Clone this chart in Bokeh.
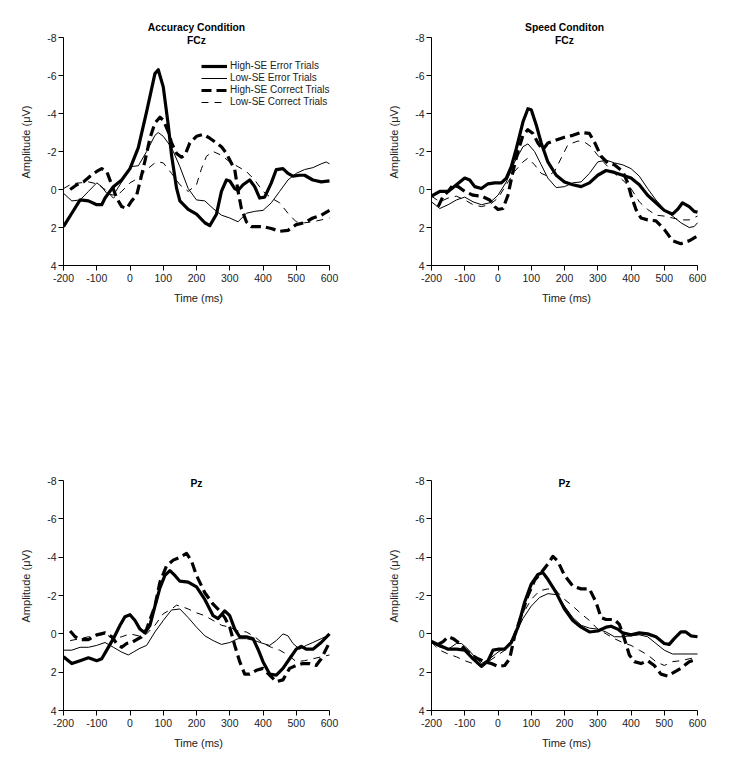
from bokeh.plotting import figure
from bokeh.models import Range1d, FixedTicker, Label, Legend, LegendItem
from bokeh.layouts import column, row
from bokeh.embed import file_html
from bokeh.resources import INLINE

FONT = "Liberation Sans"

x_ticks = [-200, -100, 0, 100, 200, 300, 400, 500, 600]
y_ticks = [-8, -6, -4, -2, 0, 2, 4]
series_names = ["High-SE Error Trials", "Low-SE Error Trials",
                "High-SE Correct Trials", "Low-SE Correct Trials"]

# ---------------- Accuracy condition, FCz ----------------
acc_fcz_hse_err_t = [-200, -175, -150, -125, -100, -85, -75, -50, -25, 0, 25, 50, 75, 85, 100, 115, 125, 140, 150, 175, 200, 225, 240, 260, 275, 290, 300, 315, 325, 340, 360, 375, 390, 405, 425, 440, 460, 475, 490, 510, 525, 550, 575, 600]
acc_fcz_hse_err_v = [1.95, 1.25, 0.55, 0.6, 0.8, 0.8, 0.45, -0.15, -0.5, -1.1, -2.2, -4.1, -6.1, -6.3, -5.4, -3.4, -1.8, -0.07, 0.6, 1.05, 1.3, 1.75, 1.9, 1.3, 0.1, -0.5, -0.45, -0.05, 0.05, -0.25, -0.5, -0.15, 0.45, 0.4, -0.35, -1.05, -1.1, -0.85, -0.7, -0.75, -0.75, -0.5, -0.4, -0.45]
acc_fcz_lse_err_t = [-200, -175, -150, -125, -100, -85, -70, -50, -25, 0, 25, 50, 75, 85, 100, 125, 150, 175, 200, 225, 250, 275, 300, 325, 350, 375, 400, 425, 450, 475, 500, 525, 550, 575, 590, 600]
acc_fcz_lse_err_v = [0.2, 0.6, 0.55, 0.1, -0.35, -0.15, 0.2, 0.3, -0.4, -1.2, -1.25, -2.0, -2.85, -3.0, -2.8, -2.2, -1.2, -0.05, 0.55, 0.6, 1.0, 1.35, 1.5, 1.7, 1.25, 1.15, 1.1, 0.7, 0.1, -0.5, -0.85, -1.05, -1.15, -1.35, -1.45, -1.35]
acc_fcz_hse_cor_t = [-180, -160, -140, -120, -100, -85, -70, -55, -40, -25, -10, 5, 20, 30, 45, 60, 75, 90, 100, 115, 125, 140, 155, 165, 180, 200, 220, 240, 260, 275, 290, 300, 315, 325, 335, 350, 365, 385, 400, 425, 450, 475, 500, 525, 550, 575, 600]
acc_fcz_hse_cor_v = [0.0, -0.25, -0.4, -0.7, -0.95, -1.1, -0.95, -0.25, 0.45, 0.9, 1.0, 0.6, 0.3, -0.4, -1.5, -2.7, -3.5, -3.8, -3.65, -3.05, -2.45, -1.9, -1.7, -1.8, -2.45, -2.8, -2.9, -2.7, -2.45, -2.25, -1.9, -1.55, -1.05, 0.1, 1.0, 1.7, 1.95, 1.95, 1.95, 2.05, 2.2, 2.15, 1.85, 1.75, 1.5, 1.35, 1.1]
acc_fcz_lse_cor_t = [-200, -175, -150, -125, -100, -75, -50, -25, 0, 25, 50, 75, 85, 100, 125, 150, 175, 200, 215, 230, 250, 275, 300, 325, 350, 375, 400, 425, 450, 475, 500, 525, 550, 575, 600]
acc_fcz_lse_cor_v = [-0.05, -0.3, -0.35, -0.4, -0.3, 0.0, 0.45, 0.1, -0.35, -0.6, -1.05, -1.4, -1.45, -1.4, -0.85, -0.25, 0.1, -0.25, -1.1, -1.75, -2.0, -1.8, -1.45, -1.2, -0.95, -0.5, 0.1, 0.45, 0.7, 1.25, 1.7, 1.75, 1.7, 1.6, 1.5]

# ---------------- Speed condition, FCz ----------------
spd_fcz_hse_err_t = [-200, -175, -150, -125, -100, -85, -70, -50, -30, -10, 10, 25, 40, 55, 75, 90, 100, 115, 130, 150, 175, 200, 225, 250, 275, 300, 325, 350, 375, 400, 425, 450, 475, 500, 525, 540, 555, 575, 590, 600]
spd_fcz_hse_err_v = [0.35, 0.1, 0.1, -0.25, -0.6, -0.5, -0.15, -0.05, -0.3, -0.35, -0.35, -0.6, -1.2, -2.15, -3.55, -4.25, -4.2, -3.4, -2.45, -1.45, -0.75, -0.4, -0.25, -0.15, -0.35, -0.75, -1.0, -0.9, -0.75, -0.6, -0.25, 0.3, 0.7, 1.1, 1.3, 1.05, 0.7, 0.9, 1.15, 1.2]
spd_fcz_lse_err_t = [-200, -175, -150, -125, -100, -75, -50, -25, 0, 25, 50, 75, 90, 110, 130, 150, 175, 200, 225, 250, 275, 300, 325, 350, 375, 400, 425, 450, 475, 500, 525, 550, 575, 590, 600]
spd_fcz_lse_err_v = [0.65, 1.0, 0.8, 0.55, 0.4, 0.65, 0.8, 0.7, 0.3, -0.4, -1.45, -2.25, -2.4, -2.0, -1.3, -0.6, -0.1, -0.15, -0.35, -0.4, -0.85, -1.45, -1.55, -1.4, -1.3, -1.1, -0.7, -0.05, 0.55, 1.05, 1.4, 1.75, 2.0, 1.95, 1.75]
spd_fcz_hse_cor_t = [-180, -165, -150, -135, -120, -100, -75, -50, -25, -10, 0, 15, 30, 45, 60, 75, 90, 105, 120, 135, 150, 175, 200, 225, 250, 275, 290, 310, 330, 350, 375, 390, 400, 415, 430, 450, 475, 500, 525, 550, 575, 600]
spd_fcz_hse_cor_v = [0.9, 0.35, 0.1, -0.25, -0.15, 0.1, 0.3, 0.35, 0.55, 0.9, 1.05, 1.0, 0.3, -0.95, -2.0, -2.85, -3.15, -2.95, -2.45, -2.1, -2.45, -2.6, -2.75, -2.85, -3.0, -2.95, -2.5, -1.75, -1.4, -1.3, -0.95, -0.35, 0.3, 1.05, 1.5, 1.6, 1.65, 2.1, 2.7, 2.85, 2.7, 2.45]
spd_fcz_lse_cor_t = [-200, -175, -150, -125, -100, -75, -50, -25, 0, 25, 50, 75, 90, 110, 130, 150, 170, 190, 210, 240, 260, 280, 300, 325, 350, 375, 400, 425, 450, 475, 500, 525, 550, 575, 600]
spd_fcz_lse_cor_v = [0.35, 0.65, 0.45, 0.35, 0.55, 0.8, 0.9, 0.8, 0.45, -0.25, -0.95, -1.45, -1.65, -1.3, -0.85, -0.7, -0.95, -1.65, -2.35, -2.55, -2.5, -2.25, -1.8, -1.3, -0.85, -0.5, -0.05, 0.65, 1.05, 1.35, 1.4, 1.5, 1.6, 1.6, 1.4]

# ---------------- Accuracy condition, Pz ----------------
acc_pz_hse_err_t = [-200, -175, -150, -125, -100, -85, -70, -50, -30, -15, 0, 15, 30, 45, 60, 75, 90, 105, 120, 135, 150, 175, 200, 225, 250, 265, 285, 300, 315, 330, 350, 370, 385, 400, 420, 440, 460, 480, 500, 515, 530, 550, 575, 600]
acc_pz_hse_err_v = [1.2, 1.55, 1.4, 1.25, 1.4, 1.3, 0.85, 0.25, -0.45, -0.9, -1.0, -0.7, -0.25, -0.05, -0.45, -1.45, -2.4, -3.05, -3.3, -3.05, -2.75, -2.7, -2.45, -1.8, -0.95, -0.8, -1.2, -0.95, -0.25, 0.15, 0.15, 0.25, 0.8, 1.45, 2.1, 2.15, 1.8, 1.3, 0.8, 0.65, 0.8, 0.8, 0.45, 0.0]
acc_pz_lse_err_t = [-200, -175, -150, -125, -100, -75, -50, -25, -5, 10, 30, 50, 75, 100, 125, 150, 175, 200, 225, 250, 275, 300, 325, 350, 375, 400, 420, 440, 460, 475, 490, 510, 530, 550, 575, 600]
acc_pz_lse_err_v = [0.85, 0.85, 0.7, 0.7, 0.6, 0.45, 0.7, 0.95, 1.1, 0.95, 0.75, 0.6, -0.1, -0.7, -1.25, -1.3, -0.85, -0.35, 0.1, 0.35, 0.55, 0.45, 0.25, 0.25, 0.35, 0.5, 0.6, 0.35, 0.0, 0.1, 0.5, 0.8, 0.6, 0.45, 0.25, 0.05]
acc_pz_hse_cor_t = [-180, -165, -150, -125, -100, -75, -55, -40, -25, -10, 5, 20, 35, 50, 75, 90, 110, 130, 150, 170, 185, 200, 225, 250, 270, 285, 300, 315, 330, 345, 360, 380, 400, 420, 440, 460, 480, 500, 520, 540, 560, 575, 600]
acc_pz_hse_cor_v = [-0.15, 0.15, 0.3, 0.3, 0.05, -0.05, 0.15, 0.5, 0.7, 0.5, 0.45, 0.3, 0.15, -0.25, -1.45, -2.7, -3.55, -3.85, -4.0, -4.2, -3.8, -3.05, -2.15, -1.55, -1.2, -0.85, -0.35, 0.6, 1.45, 2.1, 2.1, 1.9, 1.8, 2.15, 2.5, 2.4, 1.8, 1.65, 1.55, 1.55, 1.65, 1.3, 0.45]
acc_pz_lse_cor_t = [-180, -150, -125, -100, -75, -50, -25, 0, 25, 50, 75, 100, 125, 140, 160, 175, 200, 225, 250, 275, 300, 325, 350, 375, 400, 425, 450, 475, 500, 525, 550, 575, 600]
acc_pz_lse_cor_v = [0.35, 0.25, 0.15, 0.1, 0.0, 0.25, 0.15, 0.0, 0.1, 0.0, -0.45, -1.05, -1.3, -1.5, -1.4, -1.3, -1.1, -0.95, -0.7, -0.45, -0.35, -0.15, -0.1, 0.15, 0.5, 0.7, 0.85, 1.1, 1.45, 1.4, 1.3, 1.2, 1.1]

# ---------------- Speed condition, Pz ----------------
spd_pz_hse_err_t = [-200, -175, -150, -125, -100, -75, -50, -30, -15, 0, 20, 40, 60, 80, 100, 120, 135, 150, 175, 200, 225, 250, 275, 300, 325, 340, 360, 375, 400, 425, 450, 475, 500, 515, 530, 550, 565, 580, 600]
spd_pz_hse_err_v = [0.4, 0.6, 0.8, 0.8, 0.85, 1.3, 1.7, 1.4, 0.85, 0.8, 0.8, 0.45, -0.35, -1.65, -2.6, -3.1, -3.2, -2.85, -2.15, -1.3, -0.7, -0.35, -0.1, -0.15, -0.35, -0.4, -0.25, -0.05, 0.05, -0.05, 0.0, 0.15, 0.5, 0.55, 0.25, -0.1, -0.1, 0.1, 0.15]
spd_pz_lse_err_t = [-200, -175, -150, -125, -110, -90, -75, -50, -25, 0, 25, 50, 75, 100, 125, 150, 175, 200, 225, 250, 275, 300, 325, 350, 375, 400, 425, 450, 475, 500, 525, 550, 575, 600]
spd_pz_lse_err_v = [0.45, 0.7, 0.8, 0.5, 0.5, 0.8, 1.1, 1.55, 1.3, 0.95, 0.7, 0.1, -0.8, -1.45, -1.9, -2.1, -2.05, -1.45, -0.85, -0.45, -0.3, -0.25, -0.1, 0.15, 0.15, 0.1, 0.05, 0.15, 0.5, 0.85, 1.05, 1.05, 1.05, 1.05]
spd_pz_hse_cor_t = [-180, -165, -150, -135, -115, -100, -80, -60, -40, -20, 0, 20, 35, 50, 70, 90, 110, 130, 150, 165, 180, 200, 225, 250, 275, 295, 310, 325, 350, 365, 380, 395, 410, 430, 450, 470, 490, 510, 530, 550, 575, 600]
spd_pz_hse_cor_v = [0.55, 0.4, 0.15, 0.25, 0.5, 0.8, 1.1, 1.3, 1.45, 1.55, 1.7, 1.65, 1.3, 0.1, -0.95, -2.0, -2.8, -3.2, -3.65, -4.05, -3.8, -3.05, -2.5, -2.35, -2.35, -1.65, -0.85, -0.75, -0.75, -0.5, 0.25, 1.1, 1.45, 1.55, 1.4, 1.65, 2.1, 2.2, 2.0, 1.8, 1.45, 1.3]
spd_pz_lse_cor_t = [-200, -175, -150, -125, -100, -75, -50, -25, 0, 25, 50, 75, 100, 125, 150, 175, 200, 225, 250, 275, 300, 325, 350, 375, 400, 425, 450, 475, 500, 525, 550, 575, 600]
spd_pz_lse_cor_v = [0.45, 0.85, 1.05, 1.2, 1.4, 1.55, 1.65, 1.4, 1.1, 0.8, 0.0, -1.05, -1.8, -2.25, -2.35, -2.25, -1.8, -1.45, -1.05, -0.7, -0.25, 0.0, 0.25, 0.45, 0.6, 0.85, 1.1, 1.45, 1.65, 1.45, 1.4, 1.3, 1.2]

styles = [
    dict(line_width=3.2, line_dash="solid"),
    dict(line_width=1.0, line_dash="solid"),
    dict(line_width=3.2, line_dash="10 5"),
    dict(line_width=1.0, line_dash="7 6"),
]


def make_panel(series, border_left, border_right, border_top, border_bottom,
               frame_h, titles, legend=False):
    p = figure(frame_width=270, frame_height=frame_h,
               x_range=Range1d(-200, 612.03), y_range=Range1d(4, -9),
               output_backend="svg", toolbar_location=None,
               min_border_left=border_left, min_border_right=border_right,
               min_border_top=border_top, min_border_bottom=border_bottom)
    p.outline_line_color = None
    p.grid.visible = False
    p.background_fill_color = "white"
    p.border_fill_color = "white"
    for ax in (p.xaxis[0], p.yaxis[0]):
        ax.axis_line_color = "black"
        ax.axis_line_width = 1
        ax.major_tick_line_color = "black"
        ax.major_tick_out = 5
        ax.major_tick_in = 0
        ax.minor_tick_line_color = None
        ax.major_label_text_font = FONT
        ax.major_label_text_font_size = "10.5px"
        ax.major_label_text_color = "#222222"
        ax.axis_label_text_font = FONT
        ax.axis_label_text_font_size = "11px"
        ax.axis_label_text_font_style = "normal"
        ax.axis_label_text_color = "#222222"
    p.yaxis.bounds = (-8, 4)
    p.xaxis.bounds = (-200, 600)
    p.xaxis.ticker = FixedTicker(ticks=x_ticks)
    p.yaxis.ticker = FixedTicker(ticks=y_ticks)
    p.xaxis.major_label_overrides = {t: str(t) for t in x_ticks}
    p.yaxis.major_label_overrides = {t: str(t) for t in y_ticks}
    p.xaxis.major_label_standoff = 3
    p.yaxis.major_label_standoff = 2
    p.xaxis.axis_label = "Time (ms)"
    p.xaxis.axis_label_standoff = 7
    p.yaxis.axis_label = "Amplitude (\u03bcV)"
    p.yaxis.axis_label_standoff = 12

    renderers = []
    for (t, v), st in zip(series, styles):
        r = p.line(t, v, line_color="black", line_join="round", **st)
        renderers.append(r)

    # panel titles
    for i, txt in enumerate(titles):
        off = (len(titles) - 1 - i) * 13 - 3
        p.add_layout(Label(x=200, y=-8, y_offset=off, text=txt,
                           text_align="center", text_baseline="middle",
                           text_font=FONT, text_font_size="10.3px",
                           text_font_style="bold", text_color="black"))

    if legend:
        items = [LegendItem(label=n, renderers=[r]) for n, r in zip(series_names, renderers)]
        lg = Legend(items=items, location=(136, 156), orientation="vertical",
                    background_fill_alpha=0, border_line_alpha=0,
                    label_text_font=FONT, label_text_font_size="10px",
                    label_text_color="#222222",
                    glyph_width=26, glyph_height=10, label_height=10,
                    label_standoff=3, spacing=1, padding=2, margin=0)
        p.add_layout(lg, "center")
    return p


p1 = make_panel([(acc_fcz_hse_err_t, acc_fcz_hse_err_v), (acc_fcz_lse_err_t, acc_fcz_lse_err_v),
                 (acc_fcz_hse_cor_t, acc_fcz_hse_cor_v), (acc_fcz_lse_cor_t, acc_fcz_lse_cor_v)],
                63, 34, 18, 61, 247, ["Accuracy Condition", "FCz"], legend=True)
p2 = make_panel([(spd_fcz_hse_err_t, spd_fcz_hse_err_v), (spd_fcz_lse_err_t, spd_fcz_lse_err_v),
                 (spd_fcz_hse_cor_t, spd_fcz_hse_cor_v), (spd_fcz_lse_cor_t, spd_fcz_lse_cor_v)],
                64, 33, 18, 61, 247, ["Speed Conditon", "FCz"])
p3 = make_panel([(acc_pz_hse_err_t, acc_pz_hse_err_v), (acc_pz_lse_err_t, acc_pz_lse_err_v),
                 (acc_pz_hse_cor_t, acc_pz_hse_cor_v), (acc_pz_lse_cor_t, acc_pz_lse_cor_v)],
                63, 34, 135, 41, 249, ["Pz"])
p4 = make_panel([(spd_pz_hse_err_t, spd_pz_hse_err_v), (spd_pz_lse_err_t, spd_pz_lse_err_v),
                 (spd_pz_hse_cor_t, spd_pz_hse_cor_v), (spd_pz_lse_cor_t, spd_pz_lse_cor_v)],
                64, 33, 135, 41, 249, ["Pz"])

layout = column(row(p1, p2), row(p3, p4))
open("out.html", "w").write(file_html(layout, INLINE))
